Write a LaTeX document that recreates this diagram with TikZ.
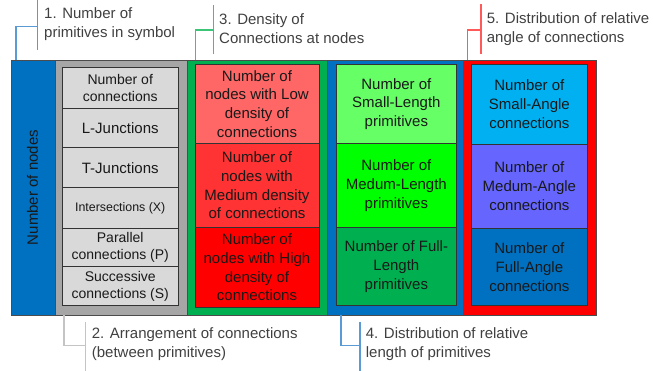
\documentclass[tikz,border=0pt]{standalone}
\usepackage{fontspec}
\setmainfont{Liberation Sans}
\definecolor{cblue}{RGB}{0,112,192}
\definecolor{cgray}{RGB}{166,166,166}
\definecolor{lgray}{RGB}{217,217,217}
\definecolor{cgreen}{RGB}{0,176,80}
\definecolor{redlow}{RGB}{255,102,102}
\definecolor{redmed}{RGB}{255,51,51}
\definecolor{redhigh}{RGB}{255,0,0}
\definecolor{grsmall}{RGB}{102,255,102}
\definecolor{grmed}{RGB}{0,255,0}
\definecolor{grfull}{RGB}{0,176,80}
\definecolor{bsmall}{RGB}{0,176,240}
\definecolor{bmed}{RGB}{102,102,255}
\definecolor{bfull}{RGB}{0,112,192}
\definecolor{lnblue}{RGB}{91,155,213}
\definecolor{lngreen}{RGB}{60,196,120}
\definecolor{lnred}{RGB}{255,90,90}
\definecolor{lngray}{RGB}{196,196,196}
\definecolor{txt}{RGB}{64,64,64}
\newcommand\bx[7]{\node[#6, minimum width={(#4)-(#2)}, minimum height={(#5)-(#3)}] (#1) at ({((#2)+(#4))/2},{((#3)+(#5))/2}) {#7};}
\tikzset{
  colbox/.style={draw=black!70, line width=0.9pt, inner sep=0pt},
  inbox/.style={draw=black!80, line width=0.8pt, inner sep=0pt, align=center, text=black!90,
    font=\fontsize{15}{18.7}\selectfont},
  smallbox/.style={inbox, font=\fontsize{14}{17}\selectfont},
  callout/.style={line width=1.2pt},
  calltext/.style={anchor=west, align=left, inner sep=0pt, text=txt, font=\fontsize{15}{19}\selectfont}
}
\begin{document}
\begin{tikzpicture}[x=1pt,y=-1pt]
\useasboundingbox (0,0) rectangle (653,371);
% columns
\bx{col1}{11.5}{60}{55.5}{315}{colbox, fill=cblue}{}
\bx{col2}{55.5}{60}{187}{315}{colbox, fill=cgray}{}
\bx{col3}{187}{60}{327}{315}{colbox, fill=cgreen}{}
\bx{col4}{327}{60}{463}{315}{colbox, fill=cblue}{}
\bx{col5}{463}{60}{596}{315}{colbox, fill=redhigh}{}
\node[rotate=90, text=black!90, font=\fontsize{15}{18}\selectfont] (nodes) at (32.5,187.5) {Number of nodes};
% column 2
\bx{g1}{62}{67.3}{178.5}{108.3}{smallbox, fill=lgray}{Number of\\connections}
\bx{g2}{62}{108.3}{178.5}{147.7}{inbox, fill=lgray}{L-Junctions}
\bx{g3}{62}{147.7}{178.5}{187.7}{inbox, fill=lgray}{T-Junctions}
\bx{g4}{62}{187.7}{178.5}{228.3}{inbox, fill=lgray, font=\fontsize{12.4}{15}\selectfont}{Intersections (X)}
\bx{g5}{62}{228.3}{178.5}{266.7}{smallbox, fill=lgray}{Parallel\\connections (P)}
\bx{g6}{62}{266.7}{178.5}{305.7}{smallbox, fill=lgray}{Successive\\connections (S)}
% column 3
\bx{r1}{195}{64.3}{319}{143.3}{inbox, fill=redlow}{Number of\\nodes with Low\\density of\\connections}
\bx{r2}{195}{143.3}{319}{227.3}{inbox, fill=redmed}{Number of\\nodes with\\Medium density\\of connections}
\bx{r3}{195}{227.3}{319}{307.3}{inbox, fill=redhigh}{Number of\\nodes with High\\density of\\connections}
% column 4
\bx{l1}{336}{64.3}{456.7}{143.7}{inbox, fill=grsmall}{Number of\\Small-Length\\primitives}
\bx{l2}{336}{143.7}{456.7}{227.3}{inbox, fill=grmed}{Number of\\Medum-Length\\primitives}
\bx{l3}{336}{227.3}{456.7}{305.7}{inbox, fill=grfull}{Number of Full-\\Length\\primitives}
% column 5
\bx{a1}{471}{64.3}{587.7}{144.3}{inbox, fill=bsmall}{Number of\\Small-Angle\\connections}
\bx{a2}{471}{144.3}{587.7}{228.3}{inbox, fill=bmed}{Number of\\Medum-Angle\\connections}
\bx{a3}{471}{228.3}{587.7}{305.7}{inbox, fill=bfull}{Number of\\Full-Angle\\connections}
% callout 1
\coordinate (k1) at (16,60);
\coordinate (k1b) at (37.7,26.7);
\coordinate (k1t) at (37.7,0);
\coordinate (k1u) at (37.7,50);
\draw[callout, lnblue] (k1) |- (k1b);
\draw[callout, lnblue] (k1t) -- (k1u);
\node[calltext] (t1) at (44,24.5) {1. Number of\\primitives in symbol};
% callout 3
\coordinate (k3) at (195.7,60);
\coordinate (k3b) at (213.3,30);
\coordinate (k3t) at (213.3,5);
\coordinate (k3u) at (213.3,54.3);
\draw[callout, lngreen] (k3) |- (k3b);
\draw[callout, lngreen] (k3t) -- (k3u);
\node[calltext] (t3) at (219,29) {3. Density of\\Connections at nodes};
% callout 5
\coordinate (k5) at (467.7,60);
\coordinate (k5b) at (481,30);
\coordinate (k5t) at (481,4.3);
\coordinate (k5u) at (481,54.3);
\draw[callout, lnred] (k5) |- (k5b);
\draw[callout, lnred] (k5t) -- (k5u);
\node[calltext] (t5) at (486.7,29) {5. Distribution of relative\\angle of connections};
% callout 2
\coordinate (k2) at (64,315);
\coordinate (k2b) at (85.7,345.7);
\coordinate (k2t) at (85.7,321.7);
\coordinate (k2u) at (85.7,371);
\draw[callout, lngray] (k2) |- (k2b);
\draw[callout, lngray] (k2t) -- (k2u);
\node[calltext] (t2) at (91.7,344.5) {2. Arrangement of connections\\(between primitives)};
% callout 4
\coordinate (k4) at (341,315);
\coordinate (k4b) at (360,345.7);
\coordinate (k4t) at (360,321.7);
\coordinate (k4u) at (360,371);
\draw[callout, lnblue] (k4) |- (k4b);
\draw[callout, lnblue] (k4t) -- (k4u);
\node[calltext] (t4) at (365.7,344.5) {4. Distribution of relative\\length of primitives};
\end{tikzpicture}
\end{document}
